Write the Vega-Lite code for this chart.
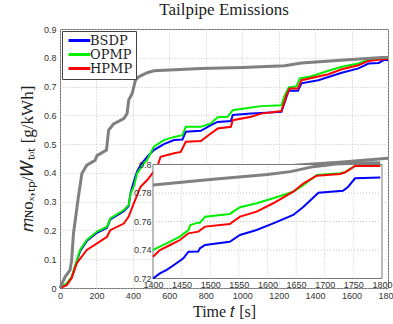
{
  "$schema": "https://vega.github.io/schema/vega-lite/v6.json",
  "width": 328,
  "height": 259,
  "autosize": "none",
  "padding": {"left": 60, "top": 29, "right": 5, "bottom": 36},
  "background": "white",
  "title": {"text": "Tailpipe Emissions", "font": "Liberation Serif", "fontSize": 17, "fontWeight": "normal", "offset": 6, "color": "#222", "anchor": "middle"},
  "config": {
    "view": {"stroke": "#666", "strokeWidth": 1},
    "axis": {"labelFont": "Liberation Sans", "labelFontSize": 9, "labelColor": "#333", "domain": false, "ticks": false, "labelFlush": false, "labelOverlap": false, "titleFont": "Liberation Serif", "titleFontWeight": "normal", "titleColor": "#222", "gridColor": "#c4c4c4", "gridDash": [1, 2], "gridWidth": 1}
  },
  "datasets": {
    "main": [
      {"s": "Ref", "t": 0, "v": 0}, {"s": "Ref", "t": 28, "v": 0.039}, {"s": "Ref", "t": 55, "v": 0.062}, {"s": "Ref", "t": 64, "v": 0.097}, {"s": "Ref", "t": 74, "v": 0.19}, {"s": "Ref", "t": 101, "v": 0.317}, {"s": "Ref", "t": 120, "v": 0.398}, {"s": "Ref", "t": 147, "v": 0.427}, {"s": "Ref", "t": 193, "v": 0.444}, {"s": "Ref", "t": 203, "v": 0.46}, {"s": "Ref", "t": 255, "v": 0.479}, {"s": "Ref", "t": 262, "v": 0.52}, {"s": "Ref", "t": 267, "v": 0.549}, {"s": "Ref", "t": 294, "v": 0.57}, {"s": "Ref", "t": 350, "v": 0.589}, {"s": "Ref", "t": 368, "v": 0.606}, {"s": "Ref", "t": 377, "v": 0.653}, {"s": "Ref", "t": 396, "v": 0.676}, {"s": "Ref", "t": 414, "v": 0.722}, {"s": "Ref", "t": 432, "v": 0.734}, {"s": "Ref", "t": 479, "v": 0.748}, {"s": "Ref", "t": 515, "v": 0.755}, {"s": "Ref", "t": 773, "v": 0.763}, {"s": "Ref", "t": 1000, "v": 0.766}, {"s": "Ref", "t": 1233, "v": 0.772}, {"s": "Ref", "t": 1325, "v": 0.782}, {"s": "Ref", "t": 1601, "v": 0.794}, {"s": "Ref", "t": 1767, "v": 0.801}, {"s": "Ref", "t": 1800, "v": 0.801},
      {"s": "Ref2", "t": 1150, "v": 0.418}, {"s": "Ref2", "t": 1309, "v": 0.427}, {"s": "Ref2", "t": 1550, "v": 0.438}, {"s": "Ref2", "t": 1800, "v": 0.451},
      {"s": "BSDP", "t": 0, "v": 0}, {"s": "BSDP", "t": 37, "v": 0.014}, {"s": "BSDP", "t": 64, "v": 0.036}, {"s": "BSDP", "t": 110, "v": 0.128}, {"s": "BSDP", "t": 147, "v": 0.163}, {"s": "BSDP", "t": 203, "v": 0.192}, {"s": "BSDP", "t": 258, "v": 0.209}, {"s": "BSDP", "t": 276, "v": 0.238}, {"s": "BSDP", "t": 350, "v": 0.267}, {"s": "BSDP", "t": 377, "v": 0.285}, {"s": "BSDP", "t": 387, "v": 0.33}, {"s": "BSDP", "t": 405, "v": 0.37}, {"s": "BSDP", "t": 423, "v": 0.405}, {"s": "BSDP", "t": 445, "v": 0.43}, {"s": "BSDP", "t": 479, "v": 0.456}, {"s": "BSDP", "t": 515, "v": 0.479}, {"s": "BSDP", "t": 570, "v": 0.5}, {"s": "BSDP", "t": 626, "v": 0.514}, {"s": "BSDP", "t": 672, "v": 0.516}, {"s": "BSDP", "t": 690, "v": 0.543}, {"s": "BSDP", "t": 773, "v": 0.546}, {"s": "BSDP", "t": 828, "v": 0.566}, {"s": "BSDP", "t": 865, "v": 0.577}, {"s": "BSDP", "t": 938, "v": 0.58}, {"s": "BSDP", "t": 948, "v": 0.601}, {"s": "BSDP", "t": 1049, "v": 0.606}, {"s": "BSDP", "t": 1215, "v": 0.612}, {"s": "BSDP", "t": 1243, "v": 0.664}, {"s": "BSDP", "t": 1255, "v": 0.685}, {"s": "BSDP", "t": 1306, "v": 0.685}, {"s": "BSDP", "t": 1325, "v": 0.711}, {"s": "BSDP", "t": 1417, "v": 0.722}, {"s": "BSDP", "t": 1546, "v": 0.748}, {"s": "BSDP", "t": 1638, "v": 0.763}, {"s": "BSDP", "t": 1693, "v": 0.78}, {"s": "BSDP", "t": 1749, "v": 0.782}, {"s": "BSDP", "t": 1776, "v": 0.792}, {"s": "BSDP", "t": 1800, "v": 0.792},
      {"s": "OPMP", "t": 0, "v": 0}, {"s": "OPMP", "t": 37, "v": 0.016}, {"s": "OPMP", "t": 64, "v": 0.039}, {"s": "OPMP", "t": 110, "v": 0.132}, {"s": "OPMP", "t": 147, "v": 0.167}, {"s": "OPMP", "t": 203, "v": 0.196}, {"s": "OPMP", "t": 258, "v": 0.213}, {"s": "OPMP", "t": 276, "v": 0.242}, {"s": "OPMP", "t": 350, "v": 0.271}, {"s": "OPMP", "t": 377, "v": 0.288}, {"s": "OPMP", "t": 387, "v": 0.329}, {"s": "OPMP", "t": 405, "v": 0.352}, {"s": "OPMP", "t": 423, "v": 0.398}, {"s": "OPMP", "t": 460, "v": 0.433}, {"s": "OPMP", "t": 477, "v": 0.444}, {"s": "OPMP", "t": 515, "v": 0.491}, {"s": "OPMP", "t": 570, "v": 0.514}, {"s": "OPMP", "t": 626, "v": 0.525}, {"s": "OPMP", "t": 672, "v": 0.531}, {"s": "OPMP", "t": 690, "v": 0.56}, {"s": "OPMP", "t": 773, "v": 0.56}, {"s": "OPMP", "t": 828, "v": 0.572}, {"s": "OPMP", "t": 865, "v": 0.593}, {"s": "OPMP", "t": 920, "v": 0.595}, {"s": "OPMP", "t": 948, "v": 0.618}, {"s": "OPMP", "t": 1049, "v": 0.627}, {"s": "OPMP", "t": 1104, "v": 0.632}, {"s": "OPMP", "t": 1215, "v": 0.635}, {"s": "OPMP", "t": 1230, "v": 0.664}, {"s": "OPMP", "t": 1255, "v": 0.697}, {"s": "OPMP", "t": 1298, "v": 0.701}, {"s": "OPMP", "t": 1316, "v": 0.728}, {"s": "OPMP", "t": 1380, "v": 0.736}, {"s": "OPMP", "t": 1473, "v": 0.755}, {"s": "OPMP", "t": 1546, "v": 0.769}, {"s": "OPMP", "t": 1638, "v": 0.78}, {"s": "OPMP", "t": 1693, "v": 0.794}, {"s": "OPMP", "t": 1749, "v": 0.797}, {"s": "OPMP", "t": 1800, "v": 0.801},
      {"s": "HPMP", "t": 0, "v": 0}, {"s": "HPMP", "t": 37, "v": 0.01}, {"s": "HPMP", "t": 64, "v": 0.035}, {"s": "HPMP", "t": 92, "v": 0.086}, {"s": "HPMP", "t": 147, "v": 0.132}, {"s": "HPMP", "t": 203, "v": 0.155}, {"s": "HPMP", "t": 258, "v": 0.178}, {"s": "HPMP", "t": 276, "v": 0.201}, {"s": "HPMP", "t": 350, "v": 0.224}, {"s": "HPMP", "t": 377, "v": 0.248}, {"s": "HPMP", "t": 405, "v": 0.294}, {"s": "HPMP", "t": 442, "v": 0.352}, {"s": "HPMP", "t": 479, "v": 0.375}, {"s": "HPMP", "t": 534, "v": 0.421}, {"s": "HPMP", "t": 552, "v": 0.456}, {"s": "HPMP", "t": 626, "v": 0.468}, {"s": "HPMP", "t": 663, "v": 0.473}, {"s": "HPMP", "t": 690, "v": 0.508}, {"s": "HPMP", "t": 773, "v": 0.511}, {"s": "HPMP", "t": 828, "v": 0.537}, {"s": "HPMP", "t": 865, "v": 0.554}, {"s": "HPMP", "t": 938, "v": 0.56}, {"s": "HPMP", "t": 948, "v": 0.583}, {"s": "HPMP", "t": 1049, "v": 0.595}, {"s": "HPMP", "t": 1104, "v": 0.606}, {"s": "HPMP", "t": 1215, "v": 0.615}, {"s": "HPMP", "t": 1243, "v": 0.67}, {"s": "HPMP", "t": 1260, "v": 0.693}, {"s": "HPMP", "t": 1306, "v": 0.693}, {"s": "HPMP", "t": 1325, "v": 0.722}, {"s": "HPMP", "t": 1473, "v": 0.743}, {"s": "HPMP", "t": 1546, "v": 0.76}, {"s": "HPMP", "t": 1638, "v": 0.774}, {"s": "HPMP", "t": 1693, "v": 0.789}, {"s": "HPMP", "t": 1749, "v": 0.793}, {"s": "HPMP", "t": 1800, "v": 0.797}
    ],
    "inset": [
      {"s": "Ref", "t": 1400, "v": 0.7856}, {"s": "Ref", "t": 1500, "v": 0.7895}, {"s": "Ref", "t": 1600, "v": 0.793}, {"s": "Ref", "t": 1640, "v": 0.795}, {"s": "Ref", "t": 1680, "v": 0.7985}, {"s": "Ref", "t": 1720, "v": 0.8003}, {"s": "Ref", "t": 1760, "v": 0.801}, {"s": "Ref", "t": 1797, "v": 0.8013},
      {"s": "BSDP", "t": 1400, "v": 0.72}, {"s": "BSDP", "t": 1412, "v": 0.7236}, {"s": "BSDP", "t": 1424, "v": 0.726}, {"s": "BSDP", "t": 1441, "v": 0.7307}, {"s": "BSDP", "t": 1453, "v": 0.7342}, {"s": "BSDP", "t": 1462, "v": 0.7388}, {"s": "BSDP", "t": 1479, "v": 0.739}, {"s": "BSDP", "t": 1482, "v": 0.7412}, {"s": "BSDP", "t": 1491, "v": 0.7435}, {"s": "BSDP", "t": 1534, "v": 0.7458}, {"s": "BSDP", "t": 1552, "v": 0.7505}, {"s": "BSDP", "t": 1581, "v": 0.754}, {"s": "BSDP", "t": 1610, "v": 0.7587}, {"s": "BSDP", "t": 1645, "v": 0.7646}, {"s": "BSDP", "t": 1663, "v": 0.7704}, {"s": "BSDP", "t": 1689, "v": 0.7802}, {"s": "BSDP", "t": 1732, "v": 0.7816}, {"s": "BSDP", "t": 1741, "v": 0.7844}, {"s": "BSDP", "t": 1753, "v": 0.7903}, {"s": "BSDP", "t": 1797, "v": 0.7909},
      {"s": "OPMP", "t": 1400, "v": 0.74}, {"s": "OPMP", "t": 1412, "v": 0.7423}, {"s": "OPMP", "t": 1430, "v": 0.7458}, {"s": "OPMP", "t": 1447, "v": 0.7494}, {"s": "OPMP", "t": 1462, "v": 0.754}, {"s": "OPMP", "t": 1465, "v": 0.7575}, {"s": "OPMP", "t": 1479, "v": 0.7592}, {"s": "OPMP", "t": 1482, "v": 0.7592}, {"s": "OPMP", "t": 1491, "v": 0.7634}, {"s": "OPMP", "t": 1534, "v": 0.7653}, {"s": "OPMP", "t": 1552, "v": 0.77}, {"s": "OPMP", "t": 1581, "v": 0.7728}, {"s": "OPMP", "t": 1610, "v": 0.7763}, {"s": "OPMP", "t": 1645, "v": 0.7809}, {"s": "OPMP", "t": 1663, "v": 0.7856}, {"s": "OPMP", "t": 1686, "v": 0.7926}, {"s": "OPMP", "t": 1727, "v": 0.7938}, {"s": "OPMP", "t": 1735, "v": 0.7946}, {"s": "OPMP", "t": 1753, "v": 0.799}, {"s": "OPMP", "t": 1797, "v": 0.799},
      {"s": "HPMP", "t": 1400, "v": 0.7353}, {"s": "HPMP", "t": 1412, "v": 0.74}, {"s": "HPMP", "t": 1430, "v": 0.7435}, {"s": "HPMP", "t": 1447, "v": 0.747}, {"s": "HPMP", "t": 1462, "v": 0.7517}, {"s": "HPMP", "t": 1479, "v": 0.7529}, {"s": "HPMP", "t": 1491, "v": 0.7564}, {"s": "HPMP", "t": 1534, "v": 0.7582}, {"s": "HPMP", "t": 1552, "v": 0.7634}, {"s": "HPMP", "t": 1581, "v": 0.7669}, {"s": "HPMP", "t": 1610, "v": 0.7728}, {"s": "HPMP", "t": 1645, "v": 0.7809}, {"s": "HPMP", "t": 1663, "v": 0.7868}, {"s": "HPMP", "t": 1686, "v": 0.7921}, {"s": "HPMP", "t": 1727, "v": 0.7934}, {"s": "HPMP", "t": 1735, "v": 0.7944}, {"s": "HPMP", "t": 1753, "v": 0.799}, {"s": "HPMP", "t": 1797, "v": 0.799}
    ],
    "ibox": [{"t": 1400, "t2": 1800, "v": 0.72, "v2": 0.8}],
    "igx": [{"t": 1450, "v": 0.72, "v2": 0.8}, {"t": 1500, "v": 0.72, "v2": 0.8}, {"t": 1550, "v": 0.72, "v2": 0.8}, {"t": 1600, "v": 0.72, "v2": 0.8}, {"t": 1650, "v": 0.72, "v2": 0.8}, {"t": 1700, "v": 0.72, "v2": 0.8}, {"t": 1750, "v": 0.72, "v2": 0.8}],
    "igy": [{"v": 0.74, "t": 1400, "t2": 1800}, {"v": 0.76, "t": 1400, "t2": 1800}, {"v": 0.78, "t": 1400, "t2": 1800}]
  },
  "layer": [
    {
      "data": {"name": "main"},
      "encoding": {
        "x": {"field": "t", "type": "quantitative", "scale": {"domain": [0, 1800], "nice": false, "zero": false},
              "axis": {"values": [0, 200, 400, 600, 800, 1000, 1200, 1400, 1600, 1800], "format": "d", "grid": true, "labelPadding": 3, "title": "Time 𝑡 [s]", "titleFontSize": 16, "titlePadding": 3}},
        "y": {"field": "v", "type": "quantitative", "scale": {"domain": [0, 0.9], "nice": false},
              "axis": {"values": [0, 0.1, 0.2, 0.3, 0.4, 0.5, 0.6, 0.7, 0.8, 0.9], "format": "~g", "grid": true, "labelPadding": 4, "title": "𝑚ɴᴏₓ,ₜₚ/𝑊ₜₒₜ [g/kWh]", "titleFontSize": 17, "titlePadding": 7}}
      },
      "layer": [
        {"transform": [{"filter": "datum.s === 'Ref2'"}], "mark": {"type": "line", "color": "#808080", "strokeWidth": 3}},
        {"transform": [{"filter": "datum.s !== 'Ref' && datum.s !== 'Ref2'"}], "mark": {"type": "line", "strokeWidth": 2},
         "encoding": {"color": {"field": "s", "type": "nominal", "scale": {"domain": ["BSDP", "OPMP", "HPMP"], "range": ["#0000ff", "#00ee00", "#ff0000"]},
           "legend": {"title": null, "orient": "top-left", "offset": 2, "symbolType": "M-0.8,0H5.1", "symbolStrokeWidth": 3, "symbolSize": 54, "labelFont": "DejaVu Serif", "labelFontSize": 13, "labelColor": "#222", "strokeColor": "#444", "fillColor": "white", "padding": 3, "rowPadding": 0, "labelOffset": 12}}}},
        {"transform": [{"filter": "datum.s === 'Ref'"}], "mark": {"type": "line", "color": "#808080", "strokeWidth": 3}}
      ]
    },
    {
      "encoding": {
        "x": {"field": "t", "type": "quantitative", "scale": {"domain": [1237.55, 1810.5], "nice": false, "zero": false},
              "axis": {"orient": "bottom", "offset": -9.5, "values": [1400, 1450, 1500, 1550, 1600, 1650, 1700, 1750, 1800], "format": "d", "grid": false, "labelPadding": 2, "title": null, "zindex": 2}},
        "y": {"field": "v", "type": "quantitative", "scale": {"domain": [0.71333, 0.89509], "nice": false, "zero": false},
              "axis": {"orient": "left", "offset": -93, "values": [0.72, 0.74, 0.76, 0.78, 0.8], "format": "~g", "grid": false, "labelPadding": 2, "title": null, "zindex": 2}}
      },
      "layer": [
        {"data": {"name": "ibox"}, "mark": {"type": "rect", "fill": "white", "stroke": "#777", "strokeWidth": 1},
         "encoding": {"x2": {"field": "t2"}, "y2": {"field": "v2"}}},
        {"data": {"name": "igx"}, "mark": {"type": "rule", "color": "#c4c4c4", "strokeDash": [1, 2], "strokeWidth": 1},
         "encoding": {"y2": {"field": "v2"}}},
        {"data": {"name": "igy"}, "mark": {"type": "rule", "color": "#c4c4c4", "strokeDash": [1, 2], "strokeWidth": 1},
         "encoding": {"x2": {"field": "t2"}}},
        {"data": {"name": "inset"}, "transform": [{"filter": "datum.s !== 'Ref'"}], "mark": {"type": "line", "strokeWidth": 2},
         "encoding": {"color": {"field": "s", "type": "nominal", "scale": {"domain": ["BSDP", "OPMP", "HPMP"], "range": ["#0000ff", "#00ee00", "#ff0000"]}}}},
        {"data": {"name": "inset"}, "transform": [{"filter": "datum.s === 'Ref'"}], "mark": {"type": "line", "color": "#808080", "strokeWidth": 3}}
      ]
    }
  ],
  "resolve": {"scale": {"x": "independent", "y": "independent"}}
}
